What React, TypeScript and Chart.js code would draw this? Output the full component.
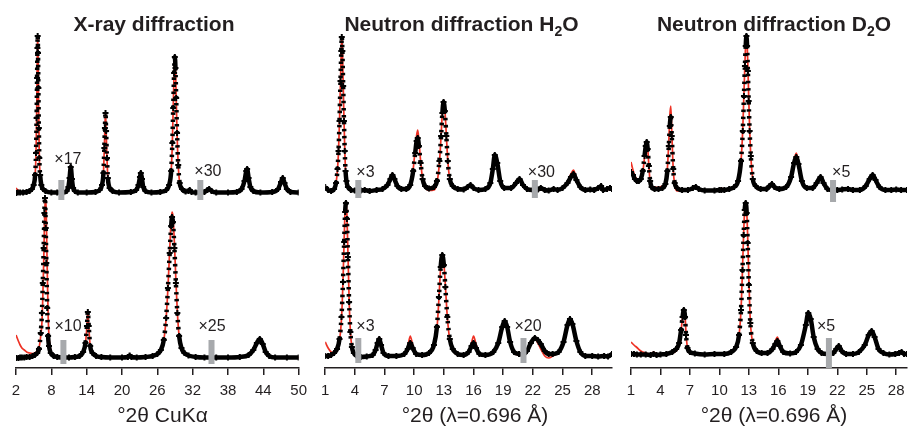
import React, { useEffect, useRef } from 'react';
import { Chart, registerables } from 'chart.js';

Chart.register(...registerables);

type Row = [number, number, number]; // [2θ, observed, calculated] (relative intensity)

// ---------------- tick labels ----------------
const xrayTicks = [2, 8, 14, 20, 26, 32, 38, 44, 50];
const neutronTicks = [1, 4, 7, 10, 13, 16, 19, 22, 25, 28];

// ---------------- X-ray diffraction ----------------
const xrayTop: Row[] = [
  [2.0, 0, 5], [2.3, 0.5, 3], [2.7, 0.5, 1.5], [3.2, 0.5, 0.5], [3.8, 1, 1], [4.3, 2, 2], [4.7, 4, 4],
  [5.0, 8, 8], [5.25, 18, 18], [5.4, 40, 40], [5.5, 75, 75], [5.58, 115, 115], [5.64, 145, 145],
  [5.68, 157, 157], [5.74, 140, 142], [5.8, 105, 108], [5.88, 65, 68], [5.96, 35, 36], [6.1, 18, 18],
  [6.3, 8, 8], [6.6, 4, 4], [7.0, 2, 2], [8.0, 0.5, 0.5], [9.0, 0.5, 0.5], [10.0, 0.5, 0.5],
  [10.6, 2, 2], [10.9, 6, 6], [11.1, 15, 15], [11.3, 26, 26], [11.5, 14, 14], [11.7, 5, 5],
  [12.0, 2, 2], [12.5, 0.5, 0.5], [14.0, 0.5, 0.5], [15.5, 1, 1], [16.2, 3, 3], [16.6, 8, 8],
  [16.85, 20, 20], [17.0, 45, 45], [17.1, 65, 66], [17.2, 80, 81], [17.3, 62, 63], [17.45, 35, 35],
  [17.6, 15, 15], [17.9, 5, 5], [18.4, 2, 2], [19.5, 0.5, 0.5], [21.5, 1, 1], [22.4, 3, 3],
  [22.8, 8, 8], [23.05, 16, 16], [23.2, 20, 20], [23.4, 14, 14], [23.6, 6, 6], [24.0, 2, 2],
  [25.0, 0.5, 0.5], [26.5, 1, 1], [27.5, 3, 3], [28.0, 8, 8], [28.35, 22, 22], [28.55, 50, 50],
  [28.7, 85, 86], [28.85, 120, 122], [28.97, 136, 138], [29.08, 125, 127], [29.2, 95, 96],
  [29.35, 60, 60], [29.55, 28, 28], [29.8, 10, 10], [30.2, 4, 4], [30.8, 1.5, 1.5], [31.3, 2, 2],
  [31.5, 3, 3], [31.8, 1, 1], [32.5, 0.5, 0.5], [34.0, 1, 1], [34.5, 3, 3], [34.8, 4, 4],
  [35.2, 2, 2], [36.0, 0.5, 0.5], [38.0, 0.5, 0.5], [39.5, 1, 1], [40.3, 4, 4], [40.8, 12, 12],
  [41.1, 22, 22], [41.25, 24, 24], [41.5, 15, 15], [41.8, 6, 6], [42.3, 2, 2], [43.5, 0.5, 0.5],
  [45.5, 1, 1], [46.5, 4, 4], [47.0, 11, 11], [47.3, 15, 15], [47.6, 10, 10], [48.0, 4, 4],
  [48.6, 1, 1], [50.0, 0.5, 0.5],
];
const xrayBottom: Row[] = [
  [2.0, 0, 23], [2.4, 0, 17], [2.7, 0.5, 13], [3.0, 0.5, 10], [3.4, 0.5, 8], [3.8, 1, 6],
  [4.3, 1, 5], [4.8, 2, 4.5], [5.2, 3, 5], [5.6, 5, 7], [5.9, 9, 10], [6.2, 25, 22],
  [6.4, 45, 35], [6.55, 75, 60], [6.7, 110, 95], [6.82, 145, 130], [6.92, 160, 152],
  [7.05, 130, 160], [7.15, 95, 140], [7.3, 50, 90], [7.45, 22, 45], [7.6, 12, 22], [7.9, 5, 8],
  [8.4, 2, 3], [9.0, 1, 1], [10.0, 0.5, 0.5], [11.0, 0.5, 0.5], [12.0, 1, 1], [12.8, 2, 2],
  [13.4, 6, 6], [13.8, 15, 15], [14.05, 32, 32], [14.2, 46, 46], [14.35, 32, 32], [14.6, 12, 12],
  [15.0, 5, 5], [15.6, 2, 2], [16.5, 1, 1], [18.0, 0.5, 0.5], [20.0, 0.5, 0.5], [21.0, 1, 1],
  [21.3, 2.5, 2.5], [21.6, 1, 1], [22.5, 0.5, 0.5], [24.0, 1, 1], [25.2, 2, 2], [26.0, 4, 4],
  [26.6, 8, 8], [27.1, 18, 18], [27.5, 40, 40], [27.8, 70, 70], [28.1, 105, 108], [28.35, 132, 138],
  [28.5, 141, 146], [28.65, 136, 142], [28.9, 110, 115], [29.15, 75, 78], [29.4, 45, 46],
  [29.7, 22, 22], [30.1, 10, 10], [30.6, 5, 5], [31.3, 2.5, 2.5], [32.5, 1, 1], [34.0, 0.5, 0.5],
  [36.0, 0.5, 0.5], [38.0, 0.5, 0.5], [40.0, 1, 1], [41.5, 3, 3], [42.3, 8, 8], [42.9, 15, 15],
  [43.4, 19, 19], [43.9, 14, 14], [44.4, 6, 6], [45.0, 2, 2], [46.0, 0.5, 0.5], [48.0, 0.5, 0.5],
  [50.0, 0.5, 0.5],
];
const xrayTopBreaks = [9.7, 33.3];
const xrayTopFactors = ['×17', '×30'];
const xrayBottomBreaks = [10.05, 35.2];
const xrayBottomFactors = ['×10', '×25'];

// ---------------- Neutron diffraction H2O ----------------
const h2oTop: Row[] = [
  [1.0, 4, 4], [1.3, 1, 1], [1.6, 0, 0], [1.9, 2, 2], [2.1, 8, 8], [2.25, 22, 22], [2.35, 40, 40],
  [2.45, 70, 70], [2.55, 110, 110], [2.63, 140, 140], [2.68, 154, 154], [2.74, 140, 142],
  [2.82, 105, 108], [2.9, 70, 72], [2.98, 40, 42], [3.06, 20, 20], [3.15, 10, 10], [3.3, 4, 4],
  [3.6, 1, 1], [4.0, 0.5, 0.5], [4.6, 0.5, 0.5], [5.0, 1, 1], [5.5, 0, 0], [6.2, 1, 1], [6.8, 2, 2],
  [7.3, 6, 6], [7.6, 12, 13], [7.8, 16, 18], [8.0, 12, 13], [8.3, 5, 5], [8.7, 2, 2], [9.2, 2, 1.5],
  [9.6, 6, 6], [9.9, 20, 22], [10.1, 38, 42], [10.25, 50, 56], [10.36, 53, 61], [10.48, 45, 50],
  [10.65, 28, 30], [10.85, 12, 12], [11.1, 5, 4], [11.5, 2.5, 0.5], [12.0, 4, 1], [12.3, 10, 8],
  [12.55, 30, 28], [12.72, 55, 55], [12.85, 78, 79], [12.97, 89, 91], [13.1, 80, 82], [13.25, 55, 56],
  [13.4, 30, 30], [13.6, 12, 12], [13.9, 5, 5], [14.4, 2, 2], [15.0, 1.5, 1.5], [15.4, 4, 4],
  [15.7, 6, 6], [16.0, 3, 3], [16.5, 1, 1], [17.2, 2, 2], [17.7, 8, 8], [17.95, 22, 23],
  [18.15, 36, 37], [18.4, 28, 28], [18.7, 10, 10], [19.1, 3, 3], [19.8, 3, 3], [20.3, 8, 8],
  [20.65, 12, 12], [21.0, 6, 6], [21.4, 2, 2], [22.0, 1, 1], [22.5, 1.5, 0.5], [22.8, 3, 1],
  [23.2, 1, 0.5], [23.6, 0.5, 0.5], [24.1, 2, 1], [24.5, 1, 1], [25.0, 3, 3], [25.5, 8, 9],
  [25.85, 14, 17], [26.1, 17, 21], [26.4, 11, 13], [26.8, 4, 4], [27.3, 1, 1], [27.8, 1.5, 1],
  [28.2, 1, 1], [28.6, 3, 2], [28.9, 5, 4], [29.1, 1, 1], [29.5, 2, 1], [29.8, 3, 2], [30.0, 2, 2],
];
const h2oBottom: Row[] = [
  [1.0, 1, 15], [1.3, 1, 9], [1.6, 2, 5], [1.9, 4, 4], [2.2, 8, 7], [2.45, 18, 16], [2.65, 40, 38],
  [2.8, 75, 75], [2.92, 115, 118], [3.02, 145, 148], [3.1, 154, 156], [3.2, 138, 142],
  [3.3, 100, 105], [3.42, 55, 58], [3.55, 25, 26], [3.7, 10, 10], [3.9, 4, 4], [4.2, 1, 1],
  [4.6, 0, 0], [5.2, 0.5, 0.5], [5.8, 2, 2], [6.1, 7, 8], [6.3, 14, 16], [6.47, 18, 20],
  [6.65, 12, 13], [6.9, 4, 4], [7.4, 1, 1], [8.2, 1, 0.5], [9.0, 3, 3], [9.35, 8, 10],
  [9.6, 14, 21], [9.85, 9, 12], [10.2, 3, 3], [10.8, 2, 1], [11.5, 4, 3], [12.0, 12, 11],
  [12.3, 30, 28], [12.5, 60, 58], [12.68, 90, 90], [12.84, 102, 102], [13.0, 92, 94],
  [13.15, 70, 72], [13.35, 40, 40], [13.6, 18, 17], [13.9, 8, 7], [14.4, 3, 2], [15.0, 2, 1.5],
  [15.5, 5, 5], [15.8, 11, 14], [16.0, 14, 21], [16.25, 9, 13], [16.6, 3, 3], [17.2, 2, 1],
  [18.0, 5, 5], [18.5, 14, 14], [18.9, 30, 31], [19.15, 36, 37], [19.4, 30, 30], [19.7, 15, 15],
  [20.1, 5, 4], [20.6, 3, 2], [21.0, 2.5, 2], [21.4, 6, 5], [21.8, 14, 13], [22.2, 19, 18],
  [22.5, 17, 14], [22.8, 13, 8], [23.2, 6, 1], [23.6, 3, -1], [24.0, 3, 1], [24.6, 5, 5],
  [25.1, 15, 16], [25.5, 32, 33], [25.75, 38, 38], [26.0, 33, 33], [26.4, 16, 16], [26.8, 5, 5],
  [27.3, 1, 1], [28.0, 1, 1], [28.6, 0.5, 1], [29.2, 1, 1], [29.6, 0.5, 1], [30.0, 3, 1],
];
const h2oTopBreaks = [4.35, 22.2];
const h2oTopFactors = ['×3', '×30'];
const h2oBottomBreaks = [4.35, 21.05];
const h2oBottomFactors = ['×3', '×20'];

// ---------------- Neutron diffraction D2O ----------------
const d2oTop: Row[] = [
  [1.0, 19, 29], [1.2, 16, 21], [1.4, 12, 15], [1.6, 10, 12], [1.8, 10, 10], [2.0, 12, 11],
  [2.2, 20, 19], [2.38, 35, 34], [2.5, 45, 45], [2.6, 49, 49], [2.7, 42, 43], [2.82, 25, 25],
  [2.95, 10, 8], [3.1, 4, 3], [3.4, 2, 4], [3.8, 2, 3.5], [4.2, 3, 5], [4.5, 7, 8], [4.7, 20, 22],
  [4.85, 45, 50], [4.95, 65, 75], [5.05, 74, 85], [5.15, 55, 60], [5.3, 22, 22], [5.45, 8, 6],
  [5.7, 3, 0], [6.2, 1, 0.5], [6.8, 1, 1], [7.3, 3, 3], [7.6, 4, 4], [7.9, 2, 2], [8.5, 0.5, 0.5],
  [9.5, 0.5, 0.5], [10.0, 1, 2], [10.2, 1, 3], [10.5, 1, 1], [11.0, 2, 2], [11.5, 4, 4],
  [11.9, 10, 10], [12.2, 30, 30], [12.38, 60, 62], [12.5, 95, 98], [12.6, 125, 128],
  [12.68, 145, 148], [12.75, 155, 156], [12.82, 145, 148], [12.9, 120, 125], [12.98, 90, 95],
  [13.08, 60, 62], [13.2, 35, 35], [13.4, 12, 12], [13.7, 5, 4], [14.2, 2, 1], [14.8, 2, 2],
  [15.1, 5, 5], [15.35, 7, 8], [15.6, 4, 4], [16.1, 2, 1], [16.8, 4, 4], [17.3, 14, 15],
  [17.6, 28, 31], [17.83, 34, 38], [18.05, 27, 29], [18.4, 10, 10], [18.9, 3, 3], [19.5, 3, 3],
  [19.9, 8, 8], [20.3, 14, 15], [20.6, 8, 8], [21.0, 2, 2], [21.4, 1, 1], [22.0, 1, 1],
  [22.5, 1.5, 1], [23.1, 2, 2], [23.6, 1, 1], [24.3, 1, 1], [24.9, 5, 5], [25.3, 12, 12],
  [25.6, 16, 16], [25.9, 11, 11], [26.3, 4, 4], [26.9, 1, 1], [27.5, 1, 1], [28.0, 1.5, 1],
  [28.5, 1, 1], [29.1, 1, 1],
];
const d2oBottom: Row[] = [
  [1.0, 1, 13], [1.3, 1, 10], [1.6, 0.5, 7.5], [2.0, 0.5, 4], [2.5, 0.5, 2], [3.0, 0, 1],
  [3.3, 1, 3], [3.6, 0, 1], [4.0, 0.5, 0.5], [4.6, 1, 1], [5.2, 3, 2], [5.6, 6, 4], [5.9, 12, 10],
  [6.1, 25, 24], [6.25, 38, 38], [6.38, 45, 45], [6.5, 38, 40], [6.6, 20, 22], [6.75, 7, 7],
  [7.0, 3, 2], [7.5, 1.5, 1], [8.5, 0.5, 0.5], [9.5, 1, 1], [10.5, 1, 1], [11.2, 3, 3],
  [11.7, 8, 8], [12.0, 20, 20], [12.2, 45, 45], [12.35, 85, 85], [12.47, 120, 122],
  [12.58, 145, 146], [12.68, 152, 152], [12.78, 142, 145], [12.88, 112, 118], [13.0, 70, 76],
  [13.15, 32, 34], [13.4, 12, 12], [13.8, 4, 4], [14.3, 2, 2], [14.9, 2, 2], [15.4, 6, 6],
  [15.7, 11, 14], [15.9, 14, 18], [16.15, 9, 11], [16.5, 3, 3], [17.2, 1.5, 1], [17.8, 3, 3],
  [18.3, 10, 10], [18.8, 30, 31], [19.05, 42, 42], [19.3, 36, 37], [19.6, 18, 18], [20.0, 6, 5],
  [20.4, 2, 1], [21.0, 1, 1], [21.6, 2, 2], [21.9, 6, 6], [22.15, 9, 9], [22.45, 4, 4],
  [22.9, 1, 1], [23.6, 1, 1], [24.2, 3, 3], [24.8, 10, 10], [25.2, 20, 20], [25.5, 24, 25],
  [25.8, 18, 18], [26.2, 6, 6], [26.7, 2, 2], [27.3, 0.5, 0.5], [27.9, 1, 1], [28.3, 2, 2],
  [28.55, 3, 3.5], [28.8, 1, 1], [29.1, 1, 1],
];
const d2oTopBreaks = [21.57];
const d2oTopFactors = ['×5'];
const d2oBottomBreaks = [21.15];
const d2oBottomFactors = ['×5'];

// ---------------- layout & style ----------------
const FONT = '"Liberation Sans", Arial, Helvetica, sans-serif';
const RED = '#ee3124';
const INK = '#231f20';
const BAR = '#a7a9ac';
const CANVAS_H = 426;
const Y_MAX = 338;

interface BreakStyle { lo: number; hi: number; dx: number; dy: number }
interface Trace { rows: Row[]; base: number; breaks: number[]; factors: string[]; style: BreakStyle[] }
interface PanelCfg {
  title: string; axisTitle: string; ticks: number[]; min: number; max: number;
  left: number; width: number; padL: number; padR: number; titleX: number; axisTitleX: number; traces: Trace[];
}

const panels: PanelCfg[] = [
  {
    title: 'X-ray diffraction', axisTitle: '°2θ CuKα', ticks: xrayTicks, min: 2, max: 50,
    left: 0, width: 314, padL: 16, padR: 10, titleX: 154, axisTitleX: 162.5,
    traces: [
      { rows: xrayTop, base: 175, breaks: xrayTopBreaks, factors: xrayTopFactors,
        style: [{ lo: -7, hi: 13, dx: -7, dy: 35 }, { lo: -7, hi: 13, dx: -6, dy: 23 }] },
      { rows: xrayBottom, base: 10, breaks: xrayBottomBreaks, factors: xrayBottomFactors,
        style: [{ lo: -6, hi: 18, dx: -9, dy: 33 }, { lo: -6, hi: 18, dx: -13, dy: 33 }] },
    ],
  },
  {
    title: 'Neutron diffraction H₂O', axisTitle: '°2θ (λ=0.696 Å)', ticks: neutronTicks, min: 1, max: 30,
    left: 314, width: 304, padL: 10, padR: 5, titleX: 147.5, axisTitleX: 161,
    traces: [
      { rows: h2oTop, base: 177, breaks: h2oTopBreaks, factors: h2oTopFactors,
        style: [{ lo: -7, hi: 11, dx: -2, dy: 20 }, { lo: -7, hi: 11, dx: -7, dy: 20 }] },
      { rows: h2oBottom, base: 11, breaks: h2oBottomBreaks, factors: h2oBottomFactors,
        style: [{ lo: -6, hi: 19, dx: -2, dy: 32 }, { lo: -6, hi: 19, dx: -9, dy: 32 }] },
    ],
  },
  {
    title: 'Neutron diffraction D₂O', axisTitle: '°2θ (λ=0.696 Å)', ticks: neutronTicks, min: 1, max: 29.1,
    left: 618, width: 295, padL: 13, padR: 0, titleX: 156, axisTitleX: 156,
    traces: [
      { rows: d2oTop, base: 177, breaks: d2oTopBreaks, factors: d2oTopFactors,
        style: [{ lo: -11, hi: 11, dx: -1, dy: 20 }] },
      { rows: d2oBottom, base: 13, breaks: d2oBottomBreaks, factors: d2oBottomFactors,
        style: [{ lo: -13, hi: 17, dx: -12, dy: 30 }] },
    ],
  },
];

// draw text where Unicode subscript digits are rendered as small lowered digits
function drawRichTitle(ctx: CanvasRenderingContext2D, text: string, cx: number, baseline: number) {
  const big = `bold 21px ${FONT}`;
  const small = `bold 14px ${FONT}`;
  const runs: { t: string; sub: boolean }[] = [];
  for (const ch of text) {
    const code = ch.charCodeAt(0);
    const sub = code >= 0x2080 && code <= 0x2089;
    const c = sub ? String.fromCharCode(code - 0x2080 + 48) : ch;
    const last = runs[runs.length - 1];
    if (last && last.sub === sub) last.t += c; else runs.push({ t: c, sub });
  }
  let total = 0;
  for (const r of runs) { ctx.font = r.sub ? small : big; total += ctx.measureText(r.t).width; }
  let x = cx - total / 2;
  ctx.fillStyle = INK;
  ctx.textAlign = 'left';
  ctx.textBaseline = 'alphabetic';
  for (const r of runs) {
    ctx.font = r.sub ? small : big;
    ctx.fillText(r.t, x, r.sub ? baseline + 5 : baseline);
    x += ctx.measureText(r.t).width;
  }
}

function steep(c: any) {
  const dx = Math.abs(c.p1.x - c.p0.x);
  const dy = Math.abs(c.p1.y - c.p0.y);
  return dy > 12 && dy > 8 * dx;
}

function PanelChart({ p }: { p: PanelCfg }) {
  const ref = useRef<HTMLCanvasElement>(null);
  useEffect(() => {
    const canvas = ref.current;
    if (!canvas) return;
    const datasets: any[] = [];
    p.traces.forEach((t) => {
      datasets.push({
        label: 'calculated',
        data: t.rows.map((r) => ({ x: r[0], y: r[2] + t.base })),
        borderColor: RED, borderWidth: 1.7, pointRadius: 0,
        cubicInterpolationMode: 'monotone', borderJoinStyle: 'round', order: 2,
      });
      datasets.push({
        label: 'observed',
        data: t.rows.map((r) => ({ x: r[0], y: r[1] + t.base })),
        borderColor: '#000', borderWidth: 4.5, borderJoinStyle: 'round', borderCapStyle: 'butt',
        pointRadius: 3, pointStyle: 'cross', pointBorderColor: '#000', pointBackgroundColor: '#000',
        pointBorderWidth: 2, cubicInterpolationMode: 'monotone', order: 1,
        segment: { borderDash: (c: any) => (steep(c) ? [2.5, 4.5] : undefined) },
      });
    });

    const decor = {
      id: 'decor',
      afterDatasetsDraw(chart: any) {
        const ctx: CanvasRenderingContext2D = chart.ctx;
        const xs = chart.scales.x;
        const ys = chart.scales.y;
        ctx.save();
        p.traces.forEach((t) => {
          t.breaks.forEach((at, i) => {
            const s = t.style[i];
            const px = xs.getPixelForValue(at);
            const yTop = ys.getPixelForValue(t.base + s.hi);
            const yBot = ys.getPixelForValue(t.base + s.lo);
            ctx.fillStyle = BAR;
            ctx.fillRect(px - 3, yTop, 6, yBot - yTop);
            ctx.fillStyle = INK;
            ctx.font = `16px ${FONT}`;
            ctx.textAlign = 'left';
            ctx.textBaseline = 'alphabetic';
            ctx.fillText(t.factors[i], px + s.dx, ys.getPixelForValue(t.base + s.dy) + 5.7);
          });
        });
        drawRichTitle(ctx, p.title, p.titleX, 31);
        ctx.fillStyle = INK;
        ctx.font = `21px ${FONT}`;
        ctx.textAlign = 'center';
        ctx.textBaseline = 'alphabetic';
        ctx.fillText(p.axisTitle, p.axisTitleX, 422);
        ctx.restore();
      },
    };

    const chart = new Chart(canvas, {
      type: 'line',
      data: { datasets },
      options: {
        animation: false,
        responsive: false,
        events: [],
        layout: { padding: { top: 30, left: p.padL, right: p.padR, bottom: 0 } },
        plugins: { legend: { display: false }, tooltip: { enabled: false }, title: { display: false } },
        scales: {
          x: {
            type: 'linear', min: p.min, max: p.max,
            afterBuildTicks: (scale: any) => { scale.ticks = p.ticks.map((v) => ({ value: v })); },
            afterFit: (scale: any) => { scale.height = 58; },
            ticks: { font: { size: 15, family: FONT }, color: INK, padding: 7, maxRotation: 0, autoSkip: false },
            grid: { drawOnChartArea: false, drawTicks: true, tickLength: 7, color: INK, lineWidth: 1.5 },
            border: { display: true, color: INK, width: 1.5 },
            title: { display: false, text: p.axisTitle },
          },
          y: { type: 'linear', display: false, min: 0, max: Y_MAX },
        },
      },
      plugins: [decor],
    } as any);
    return () => chart.destroy();
  }, [p]);
  return (
    <canvas
      ref={ref}
      width={p.width}
      height={CANVAS_H}
      style={{ position: 'absolute', left: p.left, top: 0, width: p.width, height: CANVAS_H }}
    />
  );
}

export default function App() {
  return (
    <div style={{ position: 'fixed', left: 0, top: 0, width: 913, height: CANVAS_H, background: '#fff', overflow: 'hidden' }}>
      {panels.map((p) => (
        <PanelChart key={p.title} p={p} />
      ))}
    </div>
  );
}
